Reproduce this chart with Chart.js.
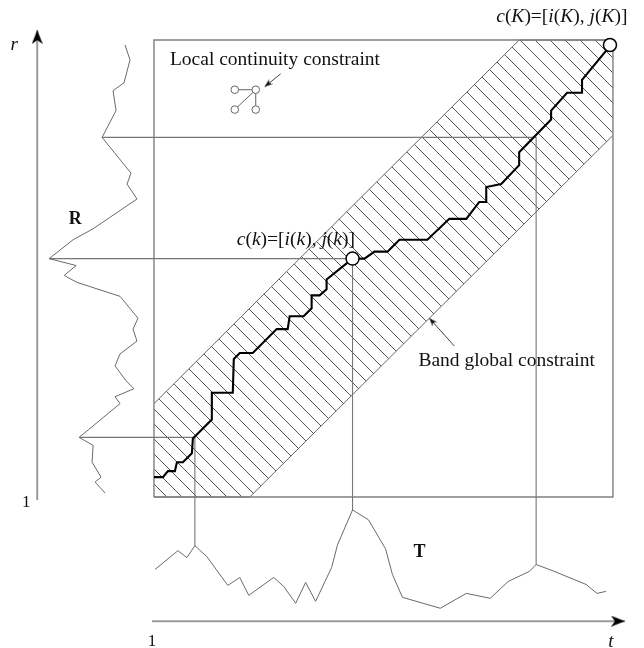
<!DOCTYPE html>
<html lang="en">
<head>
<meta charset="UTF-8" />
<title>DTW band global constraint</title>
<script src="https://cdn.jsdelivr.net/npm/chart.js"></script>
<style>
  body { margin: 0; background: #fff; }
  canvas { display: block; }
</style>
</head>
<body>
<canvas id="dtw" width="644" height="648"></canvas>
<script>
// grid box spans t = 0..46 and r = 0..46, everything else is placed around it
const boxSize = 46;

// reference signal R, drawn sideways to the left of the box: [amplitude, r]
const refSignal = [
  [-2.9, 45.5], [-2.4, 44.0], [-3.0, 41.7], [-4.1, 40.9], [-3.8, 38.9],
  [-5.2, 36.2], [-2.3, 32.6], [-2.7, 31.5], [-1.7, 30.0], [-6.1, 27.0],
  [-8.1, 25.9], [-10.5, 24.0], [-7.8, 23.3], [-9.0, 22.3], [-7.7, 21.6],
  [-3.4, 20.2], [-1.6, 18.0], [-2.1, 16.9], [-1.7, 15.7], [-3.4, 14.4],
  [-3.9, 13.2], [-2.8, 11.7], [-2.0, 10.9], [-3.9, 10.1], [-3.4, 9.4],
  [-7.5, 6.0], [-6.1, 5.2], [-6.2, 3.5], [-5.3, 2.0], [-5.9, 1.5], [-4.9, 0.4]
];

// test signal T, drawn below the box: [t, amplitude]
const testSignal = [
  [0.1, -7.3], [2.4, -5.4], [3.3, -6.1], [4.1, -4.9], [5.3, -6.0],
  [7.4, -8.9], [8.6, -8.1], [9.5, -9.9], [12.0, -8.1], [13.0, -9.0],
  [14.2, -10.7], [15.2, -8.6], [16.2, -10.5], [17.8, -7.1], [18.4, -4.8],
  [19.9, -1.3], [21.5, -2.3], [23.2, -5.2], [23.9, -7.8], [24.9, -10.1],
  [28.7, -11.2], [31.3, -9.7], [33.7, -10.2], [35.5, -8.5], [37.6, -7.5],
  [38.3, -6.8], [39.9, -7.4], [43.3, -8.8], [44.4, -9.7], [45.3, -9.5]
];

// warping path c(1) .. c(K): [t, r]
const warpPath = [
  [0, 2.0], [0.9, 2.0], [1.4, 2.6], [2.1, 2.6], [2.3, 3.5], [2.9, 3.5],
  [3.8, 4.4], [3.9, 5.9], [5.8, 7.8], [5.8, 10.5], [7.9, 10.5], [8.0, 13.9],
  [8.6, 14.5], [9.9, 14.5], [12.3, 16.9], [13.4, 16.9], [13.6, 18.2],
  [15.0, 18.2], [15.8, 19.0], [15.8, 20.3], [16.6, 20.3], [17.3, 20.9],
  [17.3, 21.9], [19.9, 24.0], [21.1, 24.0], [22.1, 24.7], [23.4, 24.7],
  [24.6, 25.9], [27.4, 25.9], [29.6, 28.0], [31.3, 28.0], [32.6, 29.7],
  [33.3, 29.7], [33.3, 31.2], [34.8, 31.5], [36.6, 33.4], [36.6, 34.7],
  [39.8, 38.0], [39.8, 38.9], [41.4, 40.7], [42.9, 40.7], [42.9, 42.0],
  [45.3, 44.9], [45.7, 45.5]
];

// band (Sakoe-Chiba) limits inside the box
const bandUpper = [[0, 9.4], [36.6, 46], [46, 46]];
const bandLower = [[0, 0], [9.6, 0], [46, 36.4]];

// highlighted points c(k) and c(K)
const markedPoints = [[19.9, 24.0], [45.7, 45.5]];

// correspondences: [R amplitude, r, t, T amplitude]
const links = [
  [-5.2, 36.2, 38.3, -6.8],
  [-10.5, 24.0, 19.9, -1.3],
  [-7.5, 6.0, 4.1, -4.9]
];

// local continuity sketch: 4 nodes and the 3 allowed moves
const localNodes = [[8.1, 41.0], [10.2, 41.0], [8.1, 39.0], [10.2, 39.0]];
const localMoves = [[0, 1], [2, 1], [3, 1]];

// axes and pointer arrows: [tail, tip]
const rAxis = [[-11.7, -0.3], [-11.7, 47.0]];
const tAxis = [[-0.2, -12.5], [47.2, -12.5]];
const pointers = [
  [[12.7, 42.6], [11.1, 41.3]],
  [[30.1, 15.2], [27.6, 18.0]]
];

const texts = [
  { parts: [['Local continuity constraint', '']], at: [1.6, 44.0], size: 19.5, align: 'left' },
  { parts: [['Band global constraint', '']], at: [26.5, 13.7], size: 19.5, align: 'left' },
  { parts: [['c', 'italic'], ['(', ''], ['k', 'italic'], [')=[', ''], ['i', 'italic'], ['(', ''],
            ['k', 'italic'], ['), ', ''], ['j', 'italic'], ['(', ''], ['k', 'italic'], [')]', '']],
    at: [8.3, 25.9], size: 19.5, align: 'left' },
  { parts: [['c', 'italic'], ['(', ''], ['K', 'italic'], [')=[', ''], ['i', 'italic'], ['(', ''],
            ['K', 'italic'], ['), ', ''], ['j', 'italic'], ['(', ''], ['K', 'italic'], [')]', '']],
    at: [34.3, 48.3], size: 19.5, align: 'left' },
  { parts: [['R', 'bold']], at: [-7.9, 27.9], size: 18, align: 'center' },
  { parts: [['T', 'bold']], at: [26.6, -5.6], size: 18, align: 'center' },
  { parts: [['r', 'italic']], at: [-14.0, 45.5], size: 19, align: 'center' },
  { parts: [['t', 'italic']], at: [45.8, -14.6], size: 19, align: 'center' },
  { parts: [['1', '']], at: [-12.8, -0.6], size: 17, align: 'center' },
  { parts: [['1', '']], at: [-0.2, -14.5], size: 17, align: 'center' }
];

const pts = arr => arr.map(p => ({ x: p[0], y: p[1] }));

const canvas = document.getElementById('dtw');
const ctx = canvas.getContext('2d');

function hatchPattern(step, color) {
  const c = document.createElement('canvas');
  c.width = step;
  c.height = step;
  const g = c.getContext('2d');
  g.strokeStyle = color;
  g.lineWidth = 1;
  g.beginPath();
  g.moveTo(-1, -1); g.lineTo(step + 1, step + 1);
  g.moveTo(-1, step - 1); g.lineTo(1, step + 1);
  g.moveTo(step - 1, -1); g.lineTo(step + 1, 1);
  g.stroke();
  return ctx.createPattern(c, 'repeat');
}

// arrowhead image with its tip at the image centre, pointing up
function arrowHead(w, len, color) {
  const c = document.createElement('canvas');
  c.width = w;
  c.height = len * 2;
  const g = c.getContext('2d');
  g.fillStyle = color;
  g.beginPath();
  g.moveTo(w / 2, len);
  g.lineTo(w, len * 2);
  g.lineTo(w / 2, len * 1.72);
  g.lineTo(0, len * 2);
  g.closePath();
  g.fill();
  return c;
}

const bigHead = arrowHead(11, 14, '#000');
const smallHead = arrowHead(6, 8, '#111');

function lineSet(data, color, width, order) {
  return {
    data: pts(data), borderColor: color, borderWidth: width,
    pointRadius: 0, fill: false, order: order
  };
}

function arrowSet(tail, tip, head, color, width, order) {
  const ang = Math.atan2(tip[0] - tail[0], tip[1] - tail[1]) * 180 / Math.PI;
  return {
    data: pts([tail, tip]), borderColor: color, borderWidth: width, fill: false,
    pointRadius: [0, 5], pointStyle: head, pointRotation: ang, order: order
  };
}

const datasets = [];

// band with hatching
datasets.push({
  data: pts(bandUpper), borderColor: '#666', borderWidth: 1, pointRadius: 0,
  fill: '+1', backgroundColor: hatchPattern(15, '#555'), order: 6
});
datasets.push(lineSet(bandLower, '#666', 1, 6));

// box
datasets.push(lineSet([[0, 0], [boxSize, 0], [boxSize, boxSize], [0, boxSize], [0, 0]], '#808080', 1.4, 5));

// signals
datasets.push(lineSet(refSignal, '#6a6a6a', 1, 4));
datasets.push(lineSet(testSignal, '#6a6a6a', 1, 4));

// correspondence lines
links.forEach(l => {
  datasets.push(lineSet([[l[0], l[1]], [l[2], l[1]], [l[2], l[3]]], '#777', 1.1, 4));
});

// axes
datasets.push(arrowSet(rAxis[0], rAxis[1], bigHead, '#9a9a9a', 2, 3));
datasets.push(arrowSet(tAxis[0], tAxis[1], bigHead, '#9a9a9a', 2, 3));

// pointer arrows
pointers.forEach(p => datasets.push(arrowSet(p[0], p[1], smallHead, '#444', 1, 3)));

// local continuity sketch
localMoves.forEach(m => {
  datasets.push(lineSet([localNodes[m[0]], localNodes[m[1]]], '#666', 1, 3));
});
datasets.push({
  data: pts(localNodes), showLine: false, pointRadius: 3.8, pointBorderWidth: 1,
  pointBackgroundColor: '#fff', pointBorderColor: '#666', order: 2
});

// warping path and marked points
datasets.push(lineSet(warpPath, '#000', 2.1, 1));
datasets.push({
  data: pts(markedPoints), showLine: false, pointRadius: 6.5, pointBorderWidth: 1.5,
  pointBackgroundColor: '#fff', pointBorderColor: '#000', order: 0
});

const textPlugin = {
  id: 'texts',
  afterDatasetsDraw(chart) {
    const c = chart.ctx;
    const sx = chart.scales.x;
    const sy = chart.scales.y;
    c.save();
    c.fillStyle = '#111';
    c.textBaseline = 'middle';
    c.textAlign = 'left';
    texts.forEach(item => {
      const fontOf = s => (s === 'italic' ? 'italic ' : s === 'bold' ? 'bold ' : '') +
        item.size + 'px "Liberation Serif", "Times New Roman", serif';
      let total = 0;
      item.parts.forEach(p => { c.font = fontOf(p[1]); total += c.measureText(p[0]).width; });
      let x = sx.getPixelForValue(item.at[0]);
      const y = sy.getPixelForValue(item.at[1]);
      if (item.align === 'center') x -= total / 2;
      item.parts.forEach(p => {
        c.font = fontOf(p[1]);
        c.fillText(p[0], x, y);
        x += c.measureText(p[0]).width;
      });
    });
    c.restore();
  }
};

new Chart(ctx, {
  type: 'line',
  data: { datasets: datasets },
  options: {
    responsive: false,
    animation: false,
    layout: { padding: 0, autoPadding: false },
    plugins: { legend: { display: false }, tooltip: { enabled: false } },
    scales: {
      x: { type: 'linear', min: -15.43, max: 49.11, display: false },
      y: { type: 'linear', min: -15.2, max: 50.03, display: false }
    }
  },
  plugins: [textPlugin]
});
</script>
</body>
</html>
